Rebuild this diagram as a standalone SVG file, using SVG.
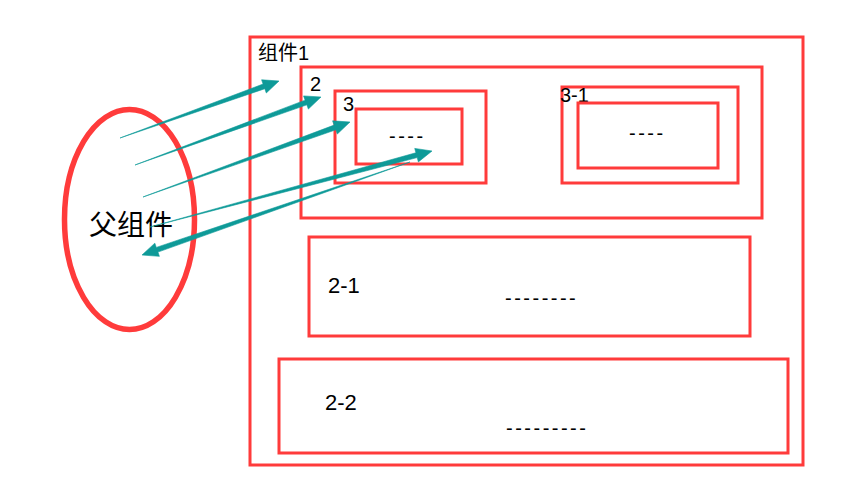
<svg xmlns="http://www.w3.org/2000/svg" width="848" height="486" viewBox="0 0 848 486">
<style>
.box{fill:none;stroke:#ff3b3b;stroke-width:3}
.t{font-family:"Liberation Sans","Noto Sans CJK SC",sans-serif;font-size:20px;fill:#000}
.l{font-size:22px}
.d{font-family:"Liberation Sans",sans-serif;font-size:20px;letter-spacing:2.5px;fill:#000}
.arr{fill:#0e9a98;stroke:#0e9a98;stroke-width:0.6;stroke-linejoin:round}
</style>
<rect width="848" height="486" fill="#fff"/>
<g id="parent">
<ellipse cx="129.5" cy="219.5" rx="65" ry="110" fill="none" stroke="#ff3b3b" stroke-width="5.5"/>
<text class="t" x="131" y="235" text-anchor="middle" style="font-size:28px">父组件</text>
</g>
<g id="comp1">
<rect class="box" x="250" y="37" width="553" height="428"/>
<text class="t" x="258" y="60">组件1</text>
</g>
<g id="comp2">
<rect class="box" x="301" y="67" width="461" height="151"/>
<text class="t" x="310" y="91">2</text>
</g>
<g id="comp3">
<rect class="box" x="335" y="91" width="151" height="92"/>
<text class="t" x="343" y="111">3</text>
</g>
<g id="comp3-inner">
<rect class="box" x="356" y="109" width="106" height="55"/>
<text class="d" x="389" y="143">----</text>
</g>
<g id="comp3-1">
<rect class="box" x="562" y="87" width="176" height="96"/>
<text class="t" x="560" y="102">3-1</text>
</g>
<g id="comp3-1-inner">
<rect class="box" x="578" y="103" width="140" height="65"/>
<text class="d" x="629" y="140">----</text>
</g>
<g id="comp2-1">
<rect class="box" x="309" y="237" width="441" height="99"/>
<text class="t l" x="328" y="293">2-1</text>
<text class="d" x="505" y="305">--------</text>
</g>
<g id="comp2-2">
<rect class="box" x="279" y="359" width="509" height="94"/>
<text class="t l" x="325" y="410">2-2</text>
<text class="d" x="506" y="435">---------</text>
</g>
<g id="connectors">
<polygon class="arr" points="120,138 264.78,88.75 266.30,92.99 279,81 261.58,79.81 263.10,84.05"/>
<polygon class="arr" points="135,165 306.83,104.84 308.37,109.06 321,97 303.57,95.92 305.11,100.14"/>
<polygon class="arr" points="143,197 335.81,129.80 337.34,134.03 350,122 332.58,120.87 334.11,125.10"/>
<polygon class="arr" points="150,227 417.20,157.57 418.37,161.92 432,151 414.73,148.40 415.90,152.75"/>
<polygon class="arr" points="410,162 156.30,247.40 154.83,243.15 142,255 159.41,256.37 157.94,252.12"/>
</g>
</svg>
